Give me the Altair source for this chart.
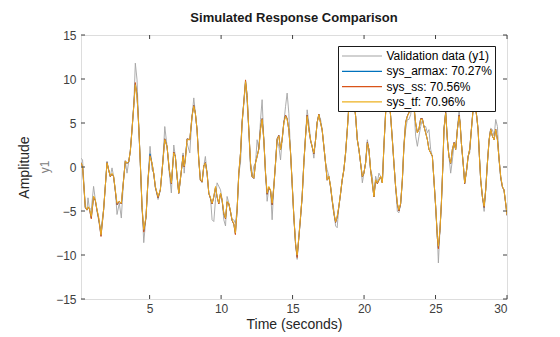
import altair as alt
import pandas as pd

# ---------------- data ----------------
t = [
    0.20, 0.31, 0.50, 0.62, 0.69, 0.78, 0.92, 1.08, 1.20, 1.32,
    1.43, 1.60, 1.78, 1.90, 2.02, 2.13, 2.25, 2.37, 2.48, 2.60,
    2.72, 2.88, 3.02, 3.18, 3.30, 3.42, 3.54, 3.65, 3.77, 3.89,
    4.00, 4.12, 4.24, 4.35, 4.47, 4.59, 4.75, 4.89, 5.03, 5.17,
    5.29, 5.40, 5.59, 5.75, 5.92, 6.06, 6.22, 6.38, 6.52, 6.69,
    6.80, 6.92, 7.04, 7.23, 7.34, 7.42, 7.50, 7.62, 7.81, 7.97,
    8.09, 8.20, 8.32, 8.44, 8.55, 8.67, 8.79, 8.90, 9.02, 9.14,
    9.26, 9.37, 9.49, 9.61, 9.72, 9.84, 9.96, 10.07, 10.19, 10.31,
    10.42, 10.54, 10.66, 10.77, 10.89, 11.00, 11.12, 11.24, 11.36, 11.47,
    11.59, 11.71, 11.82, 11.94, 12.06, 12.17, 12.29, 12.41, 12.52, 12.64,
    12.76, 12.87, 12.99, 13.11, 13.22, 13.34, 13.46, 13.57, 13.69, 13.81,
    13.92, 14.04, 14.16, 14.27, 14.39, 14.51, 14.62, 14.74, 14.86, 14.97,
    15.09, 15.21, 15.32, 15.44, 15.56, 15.67, 15.79, 15.91, 16.02, 16.14,
    16.26, 16.37, 16.49, 16.61, 16.72, 16.84, 16.96, 17.07, 17.19, 17.31,
    17.42, 17.54, 17.66, 17.77, 17.89, 18.01, 18.12, 18.24, 18.36, 18.47,
    18.59, 18.71, 18.83, 18.94, 19.06, 19.18, 19.29, 19.41, 19.53, 19.64,
    19.76, 19.88, 19.99, 20.11, 20.23, 20.34, 20.46, 20.58, 20.69, 20.81,
    20.93, 21.04, 21.16, 21.28, 21.39, 21.51, 21.63, 21.74, 21.86, 21.98,
    22.09, 22.21, 22.33, 22.44, 22.56, 22.68, 22.79, 22.91, 23.03, 23.14,
    23.26, 23.38, 23.49, 23.61, 23.73, 23.84, 23.96, 24.08, 24.19, 24.31,
    24.43, 24.54, 24.66, 24.78, 24.89, 25.01, 25.13, 25.20, 25.31, 25.41,
    25.52, 25.59, 25.71, 25.83, 25.94, 26.06, 26.18, 26.30, 26.41, 26.53,
    26.65, 26.72, 26.81, 26.95, 27.04, 27.18, 27.28, 27.39, 27.51, 27.63,
    27.74, 27.88, 27.98, 28.07, 28.16, 28.28, 28.40, 28.51, 28.63, 28.75,
    28.86, 28.98, 29.10, 29.21, 29.33, 29.45, 29.56, 29.68, 29.79, 29.91,
    30.00,
]

y_val = [
    1.0, 0.8, -4.5, -4.85, -3.5, -4.65, -4.85, -2.2, -3.7, -5.05,
    -6.0, -7.1, -4.85, -2.2, 0.65, -0.3, -1.05, -0.1, -1.05, -2.6,
    -5.4, -4.1, -5.8, -1.45, 0.65, -0.7, 0.65, 1.8, 4.25, 6.9,
    11.8, 9.9, 4.6, 0.45, -4.45, -8.6, -5.6, -1.45, 2.35, -0.3,
    -0.7, -2.2, -3.7, -2.6, 0.45, 4.6, 2.35, -0.7, -2.95, 2.5,
    1.2, -1.05, -2.95, -0.3, 1.6, -0.7, 1.2, 2.7, 1.6, 5.75,
    7.85, 6.1, 4.25, 0.8, -1.45, -1.8, 0.1, 1.2, -0.7, -2.95,
    -3.5, -6.0, -6.2, -3.7, -1.8, -2.2, -2.6, -3.7, -6.0, -6.7,
    -3.35, -4.1, -5.05, -6.0, -6.0, -6.4, -4.85, -0.7, 0.45, 5.0,
    7.25, 9.5, 7.25, 4.25, -0.3, -1.05, 0.1, 0.45, 3.1, 2.0,
    5.4, 7.65, 3.1, -0.7, -3.9, -2.4, -2.6, -6.0, -2.2, 0.45,
    3.1, 2.35, 0.8, 3.1, 5.0, 6.9, 8.4, 6.1, 1.6, -1.8,
    -5.6, -8.6, -10.5, -7.9, -5.6, -3.35, 0.45, 3.5, 6.5, 5.0,
    3.1, 2.35, 1.0, 3.1, 5.0, 5.95, 5.4, 4.25, 2.35, 0.45,
    -0.3, -1.05, -2.2, -3.7, -4.85, -6.7, -6.9, -4.45, -2.95, -1.45,
    -0.3, 1.6, 4.25, 6.9, 9.2, 9.8, 7.6, 5.75, 3.1, 2.0,
    0.45, -1.8, -0.7, 0.45, 3.1, 2.0, -0.3, -1.05, -3.35, -1.05,
    -1.8, -0.7, -1.05, -1.8, 2.35, 6.1, 8.0, 8.2, 5.75, 3.1,
    0.45, -2.2, -5.05, -5.2, -4.1, -1.45, 2.35, 4.25, 5.4, 5.4,
    5.95, 7.4, 6.9, 3.5, 2.35, 3.5, 4.6, 5.4, 4.6, 4.6,
    3.9, 4.25, 2.0, 1.2, -1.45, -4.45, -7.9, -10.9, -7.1, -4.1,
    0.45, 4.25, 6.3, 3.1, 1.2, -0.7, 0.8, 2.7, 2.0, 4.25,
    6.5, 5.0, 2.7, 0.1, -1.8, -0.3, 1.2, 1.6, 4.25, 6.5,
    7.6, 5.75, 4.25, 1.2, -1.45, -3.35, -5.05, -2.6, 0.45, 3.1,
    4.4, 4.25, 3.5, 5.4, 4.6, 0.8, -1.45, -2.2, -2.6, -4.1,
    -5.05,
]

y_armax = [
    0.5, 0.0, -4.6, -4.9, -4.6, -4.7, -5.8, -3.4, -3.8, -4.9,
    -5.8, -7.8, -4.9, -2.2, 0.5, -0.3, -1.1, -0.8, -1.1, -2.7,
    -4.3, -3.9, -4.2, -1.4, 0.7, 0.4, 0.6, 1.8, 4.3, 7.0,
    9.5, 8.1, 4.6, 0.4, -4.6, -7.3, -5.7, -1.4, 1.5, 0.4,
    -0.8, -2.3, -3.5, -2.6, 0.5, 3.2, 2.3, -0.4, -1.9, 1.7,
    1.2, -1.1, -3.0, -0.3, 1.3, 0.0, 0.9, 3.2, 3.1, 5.8,
    7.0, 6.1, 4.2, 0.8, -1.5, -1.7, 0.1, 0.5, -0.7, -3.0,
    -3.6, -4.2, -3.4, -2.3, -3.4, -4.2, -3.0, -3.8, -5.3, -5.9,
    -4.0, -4.2, -5.1, -6.1, -6.5, -7.6, -4.9, -0.7, 1.6, 5.1,
    7.4, 9.8, 8.1, 4.2, 0.4, -1.1, -1.3, 0.5, 1.2, 2.1,
    4.4, 5.5, 3.1, -0.8, -3.1, -2.3, -2.7, -4.3, -2.2, 0.5,
    3.2, 3.6, 2.0, 3.1, 5.1, 5.9, 5.5, 4.2, 1.6, -1.9,
    -5.7, -8.8, -10.2, -8.0, -5.7, -3.4, 0.5, 3.6, 5.9, 4.3,
    3.0, 2.3, 1.5, 3.1, 5.1, 6.0, 5.0, 4.2, 2.3, 0.4,
    -1.5, -1.1, -2.3, -3.8, -5.3, -6.3, -5.7, -4.5, -3.0, -1.5,
    -0.3, 1.6, 4.3, 7.0, 9.1, 9.4, 7.5, 5.8, 3.1, 2.0,
    0.4, -1.1, -0.7, 0.5, 2.8, 2.0, -0.4, -1.9, -3.4, -1.5,
    -1.9, -1.5, -1.1, -1.8, 2.4, 6.2, 7.7, 7.9, 5.8, 3.1,
    0.4, -2.3, -4.2, -5.0, -4.2, -1.5, 2.4, 5.1, 5.8, 6.2,
    6.6, 7.3, 6.9, 5.0, 3.9, 4.3, 5.5, 5.5, 4.6, 3.9,
    3.1, 2.0, 1.6, 1.2, -1.5, -4.5, -8.1, -9.2, -7.2, -4.2,
    0.5, 4.3, 6.2, 3.1, 1.2, 0.4, 2.0, 2.8, 2.0, 4.3,
    5.9, 5.0, 2.7, 0.1, -1.9, -0.3, 1.2, 2.0, 4.3, 6.6,
    7.3, 5.8, 4.2, 1.2, -1.5, -3.4, -4.6, -2.6, 0.5, 3.1,
    4.3, 3.5, 3.1, 4.3, 3.1, 0.8, -1.1, -2.3, -2.6, -4.2,
    -5.5,
]

y_ss = [
    0.5, 0.0, -4.6, -4.9, -4.6, -4.7, -5.9, -3.4, -3.8, -4.9,
    -5.8, -7.9, -4.9, -2.2, 0.5, -0.3, -1.1, -0.8, -1.1, -2.7,
    -4.3, -3.9, -4.2, -1.4, 0.7, 0.4, 0.6, 1.8, 4.3, 7.0,
    9.6, 8.1, 4.6, 0.4, -4.6, -7.4, -5.7, -1.4, 1.3, 0.4,
    -0.8, -2.3, -3.5, -2.6, 0.5, 3.2, 2.3, -0.4, -1.9, 1.7,
    1.2, -1.1, -3.0, -0.3, 1.3, 0.0, 0.9, 3.2, 3.1, 5.8,
    7.0, 6.1, 4.2, 0.8, -1.5, -1.7, 0.1, 0.5, -0.7, -3.0,
    -3.6, -4.2, -3.4, -2.3, -3.4, -4.2, -3.0, -3.8, -5.3, -5.9,
    -4.0, -4.2, -5.1, -6.1, -6.5, -7.7, -4.9, -0.7, 1.6, 5.1,
    7.4, 9.9, 8.1, 4.2, 0.4, -1.1, -1.3, 0.5, 1.2, 2.1,
    4.4, 5.5, 3.1, -0.8, -3.1, -2.3, -2.7, -4.3, -2.2, 0.5,
    3.2, 3.6, 2.0, 3.1, 5.1, 5.9, 5.5, 4.2, 1.6, -1.9,
    -5.7, -8.8, -10.3, -8.0, -5.7, -3.4, 0.5, 3.6, 5.9, 4.3,
    3.0, 2.3, 1.5, 3.1, 5.1, 6.0, 5.0, 4.2, 2.3, 0.4,
    -1.5, -1.1, -2.3, -3.8, -5.3, -6.3, -5.7, -4.5, -3.0, -1.5,
    -0.3, 1.6, 4.3, 7.0, 9.1, 9.4, 7.5, 5.8, 3.1, 2.0,
    0.4, -1.1, -0.7, 0.5, 2.8, 2.0, -0.4, -1.9, -3.4, -1.5,
    -1.9, -1.5, -1.1, -1.8, 2.4, 6.2, 7.7, 7.9, 5.8, 3.1,
    0.4, -2.3, -4.2, -5.0, -4.2, -1.5, 2.4, 5.1, 5.8, 6.2,
    6.6, 7.3, 6.9, 5.0, 3.9, 4.3, 5.5, 5.5, 4.6, 3.9,
    3.1, 2.0, 1.6, 1.2, -1.5, -4.5, -8.1, -9.3, -7.2, -4.2,
    0.5, 4.3, 6.2, 3.1, 1.2, 0.4, 2.0, 2.8, 2.0, 4.3,
    5.9, 5.0, 2.7, 0.1, -1.9, -0.3, 1.2, 2.0, 4.3, 6.6,
    7.3, 5.8, 4.2, 1.2, -1.5, -3.4, -4.6, -2.6, 0.5, 3.1,
    4.3, 3.5, 3.1, 4.3, 3.1, 0.8, -1.1, -2.3, -2.6, -4.2,
    -5.5,
]

y_tf = [
    0.45, 0.1, -4.5, -4.85, -4.5, -4.65, -5.6, -3.3, -3.7, -4.85,
    -5.6, -7.7, -4.85, -2.2, 0.45, -0.3, -1.05, -0.7, -1.05, -2.6,
    -4.1, -3.9, -4.1, -1.45, 0.65, 0.45, 0.65, 1.8, 4.25, 6.9,
    9.35, 8.0, 4.6, 0.45, -4.45, -7.1, -5.6, -1.45, 1.2, 0.45,
    -0.7, -2.2, -3.35, -2.6, 0.45, 3.1, 2.35, -0.3, -1.8, 1.6,
    1.2, -1.05, -2.95, -0.3, 1.2, 0.1, 0.8, 3.1, 3.1, 5.75,
    6.9, 6.1, 4.25, 0.8, -1.45, -1.65, 0.1, 0.45, -0.7, -2.95,
    -3.5, -4.1, -3.35, -2.2, -3.35, -4.1, -2.95, -3.7, -5.2, -5.8,
    -3.9, -4.1, -5.05, -6.0, -6.4, -7.5, -4.85, -0.7, 1.6, 5.0,
    7.25, 9.7, 8.0, 4.25, 0.45, -1.05, -1.25, 0.45, 1.2, 2.0,
    4.25, 5.4, 3.1, -0.7, -2.95, -2.2, -2.6, -4.1, -2.2, 0.45,
    3.1, 3.5, 2.0, 3.1, 5.0, 5.75, 5.4, 4.25, 1.6, -1.8,
    -5.6, -8.6, -10.0, -7.9, -5.6, -3.35, 0.45, 3.5, 5.75, 4.25,
    3.1, 2.35, 1.6, 3.1, 5.0, 5.95, 5.0, 4.25, 2.35, 0.45,
    -1.45, -1.05, -2.2, -3.7, -5.2, -6.2, -5.6, -4.45, -2.95, -1.45,
    -0.3, 1.6, 4.25, 6.9, 9.0, 9.3, 7.4, 5.75, 3.1, 2.0,
    0.45, -1.05, -0.7, 0.45, 2.7, 2.0, -0.3, -1.8, -3.35, -1.45,
    -1.8, -1.45, -1.05, -1.8, 2.35, 6.1, 7.6, 7.8, 5.75, 3.1,
    0.45, -2.2, -4.1, -4.85, -4.1, -1.45, 2.35, 5.0, 5.75, 6.1,
    6.5, 7.2, 6.9, 5.0, 3.9, 4.25, 5.4, 5.4, 4.6, 3.9,
    3.1, 2.0, 1.6, 1.2, -1.45, -4.45, -7.9, -9.0, -7.1, -4.1,
    0.45, 4.25, 6.1, 3.1, 1.2, 0.45, 2.0, 2.7, 2.0, 4.25,
    5.75, 5.0, 2.7, 0.1, -1.8, -0.3, 1.2, 2.0, 4.25, 6.5,
    7.2, 5.75, 4.25, 1.2, -1.45, -3.35, -4.45, -2.6, 0.45, 3.1,
    4.25, 3.5, 3.1, 4.25, 3.1, 0.8, -1.05, -2.2, -2.6, -4.1,
    -5.4,
]

series_names = ["Validation data (y1)", "sys_armax: 70.27%", "sys_ss: 70.56%", "sys_tf: 70.96%"]
series_colors = ["#a4a4a4", "#0072BD", "#D95319", "#EDB120"]

x_ticks = [5, 10, 15, 20, 25, 30]
y_ticks = [-15, -10, -5, 0, 5, 10, 15]

# ---------------- chart ----------------
FONT = "Liberation Sans"
W, H = 426, 264
TICK = 4
AX = "#404040"

xs = alt.Scale(domain=[0.2, 30], nice=False, zero=False)
ys = alt.Scale(domain=[-15, 15], nice=False, zero=False)
cs = alt.Scale(domain=series_names, range=series_colors)

x_axis = alt.Axis(values=x_ticks, title="Time (seconds)", ticks=False, domain=False, grid=False,
                  labelPadding=4, labelFontSize=12, labelColor=AX, labelFont=FONT,
                  titleFontSize=14, titleFontWeight="normal", titleColor="#262626", titleFont=FONT,
                  titlePadding=3)
y_axis = alt.Axis(values=y_ticks, title="Amplitude", ticks=False, domain=False, grid=False,
                  labelPadding=5, labelFontSize=12, labelColor=AX, labelFont=FONT,
                  titleFontSize=14, titleFontWeight="normal", titleColor="#262626", titleFont=FONT,
                  titleX=-57, titleY=H / 2, titleAlign="center", titleBaseline="middle")

# a horizontal line symbol, 40 px long, with a small nominal size so rows stay compact
legend = alt.Legend(title=None, orient="none", legendX=257, legendY=11,
                    fillColor="white", strokeColor="#1a1a1a", padding=3,
                    symbolType="M-1,0H5.667", symbolSize=144, symbolStrokeWidth=1.2,
                    labelFontSize=12, labelColor="black", labelFont=FONT,
                    rowPadding=2.3, labelOffset=31.5)


def series_layer(values, name):
    df = pd.DataFrame({"t": t, "y": values, "series": name})
    return alt.Chart(df).mark_line(strokeWidth=0.9, clip=True).encode(
        x=alt.X("t:Q", scale=xs, axis=x_axis),
        y=alt.Y("y:Q", scale=ys, axis=y_axis),
        color=alt.Color("series:N", scale=cs, legend=legend),
    )


xt = pd.DataFrame({"v": x_ticks})
yt = pd.DataFrame({"v": y_ticks})

tick_bottom = alt.Chart(xt).mark_rule(color=AX, strokeWidth=1).encode(
    x=alt.X("v:Q", scale=xs, axis=x_axis), y=alt.value(H - TICK), y2=alt.value(H))
tick_top = alt.Chart(xt).mark_rule(color=AX, strokeWidth=1).encode(
    x=alt.X("v:Q", scale=xs, axis=x_axis), y=alt.value(0), y2=alt.value(TICK))
tick_left = alt.Chart(yt).mark_rule(color=AX, strokeWidth=1).encode(
    y=alt.Y("v:Q", scale=ys, axis=y_axis), x=alt.value(0), x2=alt.value(TICK))
tick_right = alt.Chart(yt).mark_rule(color=AX, strokeWidth=1).encode(
    y=alt.Y("v:Q", scale=ys, axis=y_axis), x=alt.value(W - TICK), x2=alt.value(W))

y1_label = alt.Chart(pd.DataFrame({"s": ["y1"]})).mark_text(
    angle=270, fontSize=12, color="#808080", font=FONT, baseline="middle", align="center"
).encode(x=alt.value(-36), y=alt.value(H / 2), text="s:N")

chart = alt.layer(
    series_layer(y_val, series_names[0]),
    series_layer(y_armax, series_names[1]),
    series_layer(y_ss, series_names[2]),
    series_layer(y_tf, series_names[3]),
    tick_bottom, tick_top, tick_left, tick_right,
    y1_label,
).properties(
    width=W, height=H,
    title=alt.TitleParams("Simulated Response Comparison", fontSize=13, fontWeight="bold",
                          font=FONT, color="#1a1a1a", anchor="middle", frame="group", offset=4),
    autosize=alt.AutoSizeParams(type="none"),
    padding={"left": 81, "top": 35, "right": 53, "bottom": 38},
).configure_view(stroke=AX, strokeWidth=1).configure(background="white")

chart.save("out.html", embed_options={"renderer": "svg", "actions": False})
